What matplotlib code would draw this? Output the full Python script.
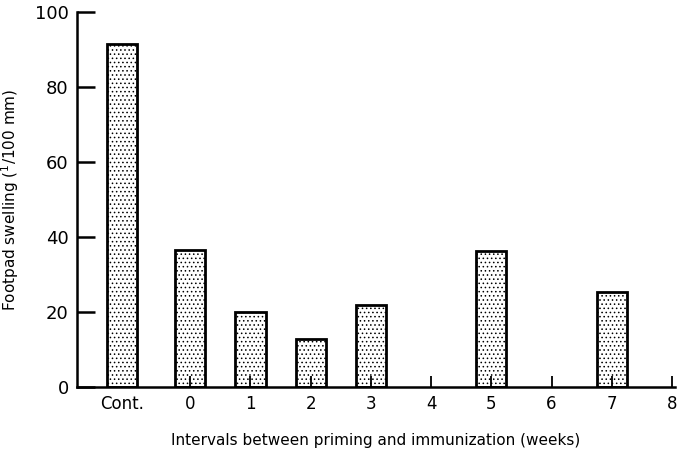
import matplotlib.pyplot as plt

plt.rcParams['hatch.linewidth'] = 0.6
plt.rcParams['font.family'] = 'DejaVu Sans'

# data
positions = [-1.13, 0, 1, 2, 3, 5, 7]
swelling = [91.5, 36.5, 20.0, 12.8, 22.0, 36.3, 25.3]
tick_pos = [0, 1, 2, 3, 4, 5, 6, 7, 8]
tick_labels = ['0', '1', '2', '3', '4', '5', '6', '7', '8']
control_pos = -1.13
control_label = 'Cont.'
y_ticks = [0, 20, 40, 60, 80, 100]

fig = plt.figure(figsize=(6.78, 4.5), dpi=100)
ax = fig.add_axes([0.1136, 0.14, 0.882, 0.833])

ax.bar(positions, swelling, width=0.5, facecolor='white', edgecolor='black',
       linewidth=2.0, hatch='....', zorder=2)

ax.set_axisbelow(False)
ax.set_xlim(-1.88, 8.05)
ax.set_ylim(0, 100)
ax.set_xticks(tick_pos)
ax.set_xticklabels(tick_labels)
# control group label, no tick mark under it
ax.set_xticks([control_pos], minor=True)
ax.set_xticklabels([control_label], minor=True)
ax.set_yticks(y_ticks)

ax.spines['top'].set_visible(False)
ax.spines['right'].set_visible(False)
ax.spines['left'].set_linewidth(1.8)
ax.spines['bottom'].set_linewidth(1.8)

ax.tick_params(axis='y', direction='in', length=13, width=1.8, labelsize=13, pad=6)
ax.tick_params(axis='x', which='major', direction='in', length=8, width=1.3,
               labelsize=12, pad=6)
ax.tick_params(axis='x', which='minor', direction='in', length=0,
               labelsize=12, pad=6)

ax.set_ylabel('Footpad swelling ($^{1}$/100 mm)', fontsize=11, labelpad=10)
ax.set_xlabel('Intervals between priming and immunization (weeks)', fontsize=11,
              labelpad=14)

plt.savefig('out.png', dpi=100)
